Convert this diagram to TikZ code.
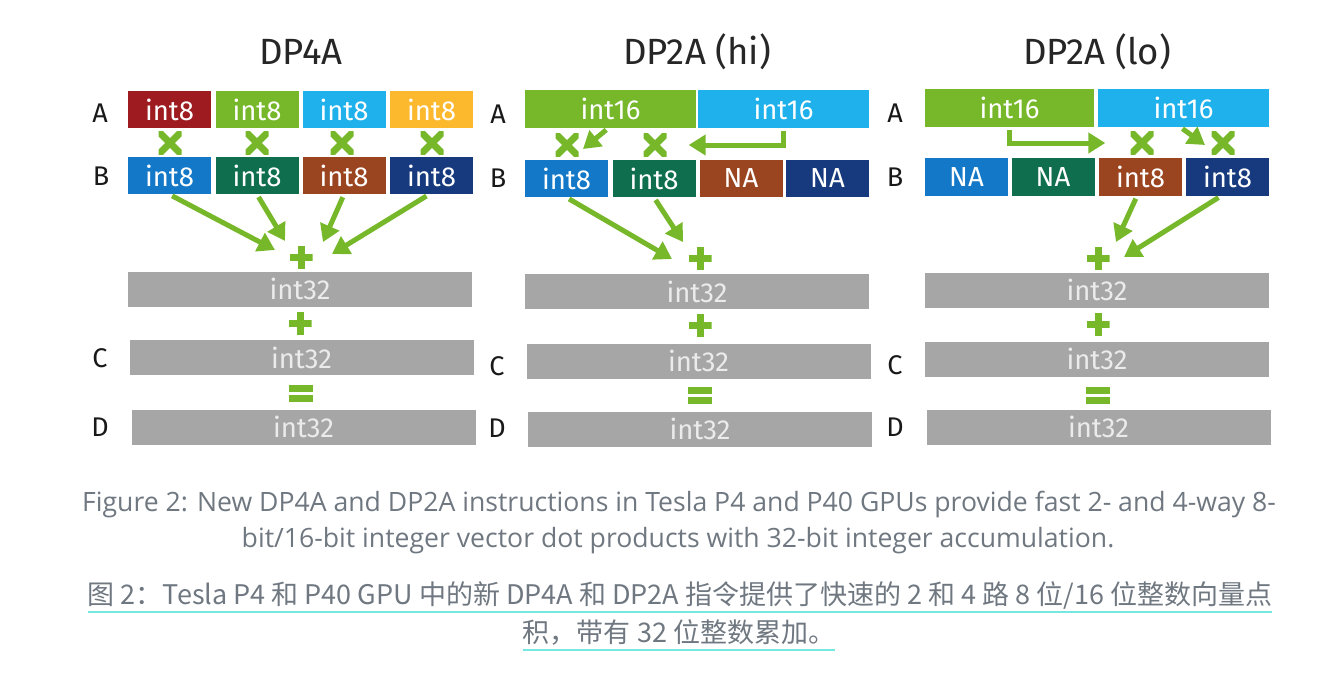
\documentclass[tikz,border=0pt]{standalone}
\usepackage{fontspec}
\setmainfont{Fira Sans}
\newfontfamily\capfont{Open Sans}
\newfontfamily\cjkfont{Noto Sans CJK SC}
\usetikzlibrary{arrows.meta}

\definecolor{nvgreen}{HTML}{76B82A}
\definecolor{cRed}{HTML}{9E1B20}
\definecolor{cSky}{HTML}{1EB1EC}
\definecolor{cAmber}{HTML}{FDB92E}
\definecolor{cBlue}{HTML}{1478C8}
\definecolor{cPine}{HTML}{0F6E4E}
\definecolor{cRust}{HTML}{9A4520}
\definecolor{cNavy}{HTML}{173A7E}
\definecolor{barGray}{HTML}{A6A6A6}
\definecolor{capGray}{HTML}{6F7780}
\definecolor{ulCyan}{HTML}{74E8E1}

\begin{document}
\begin{tikzpicture}[x=1pt,y=-1pt,
    cell/.style={minimum width=83pt,minimum height=37.5pt,inner sep=0pt,
      text=white,font=\fontsize{27.5}{30}\selectfont},
    bar/.style={cell,fill=barGray,text=white!92!black,minimum width=344pt,
      minimum height=35pt},
    title/.style={font=\fontsize{36.5}{40}\selectfont,text=black!85},
    rowlab/.style={font=\fontsize{27}{30}\selectfont,text=black!90},
    flow/.style={nvgreen,line width=5pt,shorten <=3pt,
      -{Triangle[length=17pt,width=20pt]}},
    mult/.style={minimum size=23pt,inner sep=0pt,path picture={
      \draw[nvgreen,line width=7pt]
        (path picture bounding box.south west) -- (path picture bounding box.north east)
        (path picture bounding box.north west) -- (path picture bounding box.south east);}},
    plusmark/.style={minimum size=23pt,inner sep=0pt,path picture={
      \fill[nvgreen] ([xshift=-3.5pt]path picture bounding box.north)
        rectangle ([xshift=3.5pt]path picture bounding box.south);
      \fill[nvgreen] ([yshift=-3.5pt]path picture bounding box.west)
        rectangle ([yshift=3.5pt]path picture bounding box.east);}},
    equalmark/.style={minimum width=24pt,minimum height=17pt,inner sep=0pt,path picture={
      \fill[nvgreen] (path picture bounding box.north west)
        rectangle ([yshift=-7pt]path picture bounding box.north east);
      \fill[nvgreen] ([yshift=7pt]path picture bounding box.south west)
        rectangle (path picture bounding box.south east);}},
    captxt/.style={inner sep=0pt,text=capGray,font=\capfont\fontsize{26.6}{30}\selectfont},
    cjktxt/.style={inner sep=0pt,text=capGray,font=\cjkfont\fontsize{27}{31}\selectfont},
    uline/.style={ulCyan,line width=2.5pt}]
  \useasboundingbox (0,0) rectangle (1336,686);

  % DP4A
  \node[title] (t1) at (301,52) {DP4A};
  \node[rowlab] (la1) at (100,113) {A};
  \node[rowlab] (lb1) at (101,176) {B};
  \node[rowlab] (lc1) at (100,358) {C};
  \node[rowlab] (ld1) at (100,427) {D};
  \node[cell,fill=cRed] (a11) at (169.5,109.5) {int8};
  \node[cell,fill=nvgreen] (a12) at (257,109.5) {int8};
  \node[cell,fill=cSky] (a13) at (344,109.5) {int8};
  \node[cell,fill=cAmber] (a14) at (431.5,109.5) {int8};
  \node[cell,fill=cBlue] (b11) at (169.5,175.5) {int8};
  \node[cell,fill=cPine] (b12) at (257,175.5) {int8};
  \node[cell,fill=cRust] (b13) at (344,175.5) {int8};
  \node[cell,fill=cNavy] (b14) at (431.5,175.5) {int8};
  \foreach \i/\x in {1/170,2/257,3/342,4/432}
    \node[mult] (m1\i) at (\x,143) {};
  \node[plusmark] (s1) at (301,257) {};
  \coordinate (k11) at (275,250);
  \coordinate (k12) at (285,241);
  \coordinate (k13) at (323,242);
  \coordinate (k14) at (332,254);
  \draw[flow] (b11.south) -- (k11);
  \draw[flow] (b12.south) -- (k12);
  \draw[flow] (b13.south) -- (k13);
  \draw[flow] ([xshift=-2.5pt]b14.south) -- (k14);
  \node[bar] (r1) at (300,289) {int32};
  \node[plusmark] (p1) at (300,323) {};
  \node[bar] (c1) at (301.5,357.5) {int32};
  \node[equalmark] (e1) at (301,393) {};
  \node[bar] (d1) at (303.5,427) {int32};

  % DP2A (hi)
  \node[title] (t2) at (697,52) {DP2A (hi)};
  \node[rowlab] (la2) at (498,114) {A};
  \node[rowlab] (lb2) at (498,178) {B};
  \node[rowlab] (lc2) at (497,366) {C};
  \node[rowlab] (ld2) at (497,428) {D};
  \node[cell,fill=nvgreen,minimum width=171pt] (a21) at (610.5,109) {int16};
  \node[cell,fill=cSky,minimum width=171pt] (a22) at (783.5,109) {int16};
  \node[cell,fill=cBlue] (b21) at (566.5,178.5) {int8};
  \node[cell,fill=cPine] (b22) at (654,178.5) {int8};
  \node[cell,fill=cRust] (b23) at (741,178.5) {NA};
  \node[cell,fill=cNavy] (b24) at (827.5,178.5) {NA};
  \node[mult] (m21) at (567,145) {};
  \node[mult] (m22) at (655,145) {};
  \coordinate (h1) at (583,149);
  \draw[flow] ([xshift=-2pt]a21.south) -- (h1);
  \draw[flow,shorten >=22pt] (a22.south) |- (m22);
  \node[plusmark] (s2) at (700,258) {};
  \coordinate (k21) at (672,259);
  \coordinate (k22) at (683,242);
  \draw[flow] (b21.south) -- (k21);
  \draw[flow] (b22.south) -- (k22);
  \node[bar] (r2) at (697,291.5) {int32};
  \node[plusmark] (p2) at (700,325) {};
  \node[bar] (c2) at (698.5,361) {int32};
  \node[equalmark] (e2) at (700,395) {};
  \node[bar] (d2) at (700,429) {int32};

  % DP2A (lo)
  \node[title] (t3) at (1097,52) {DP2A (lo)};
  \node[rowlab] (la3) at (895,113) {A};
  \node[rowlab] (lb3) at (895,177) {B};
  \node[rowlab] (lc3) at (895,365) {C};
  \node[rowlab] (ld3) at (895,427) {D};
  \node[cell,fill=nvgreen,minimum width=169pt] (a31) at (1009.5,108) {int16};
  \node[cell,fill=cSky,minimum width=171pt] (a32) at (1183.5,108) {int16};
  \node[cell,fill=cBlue] (b31) at (966.5,177) {NA};
  \node[cell,fill=cPine] (b32) at (1053,177) {NA};
  \node[cell,fill=cRust] (b33) at (1140.5,177) {int8};
  \node[cell,fill=cNavy] (b34) at (1227.5,177) {int8};
  \node[mult] (m31) at (1142,143) {};
  \node[mult] (m32) at (1223,143) {};
  \coordinate (h2) at (1205,145);
  \draw[flow,shorten >=25pt] (a31.south) |- (m31);
  \draw[flow] ([xshift=-3.5pt]a32.south) -- (h2);
  \node[plusmark] (s3) at (1098,258) {};
  \coordinate (k31) at (1116,242);
  \coordinate (k32) at (1124,257);
  \draw[flow] ([xshift=-3.5pt]b33.south) -- (k31);
  \draw[flow] ([xshift=-6.5pt]b34.south) -- (k32);
  \node[bar] (r3) at (1097,290) {int32};
  \node[plusmark] (p3) at (1098,324) {};
  \node[bar] (c3) at (1097,359) {int32};
  \node[equalmark] (e3) at (1098,395) {};
  \node[bar] (d3) at (1098.5,427) {int32};

  % caption
  \node[captxt] (cap1) at (679,505)
    {Figure 2: New DP4A and DP2A instructions in Tesla P4 and P40 GPUs provide fast 2- and 4-way 8-};
  \node[captxt] (cap2) at (678,541)
    {bit/16-bit integer vector dot products with 32-bit integer accumulation.};
  \node[cjktxt] (zh1) at (680,595)
    {图 2：Tesla P4 和 P40 GPU 中的新 DP4A 和 DP2A 指令提供了快速的 2 和 4 路 8 位/16 位整数向量点};
  \node[cjktxt] (zh2) at (679,632) {积，带有 32 位整数累加。};
  \draw[uline] ([yshift=-8pt]zh1.base west) -- ([yshift=-8pt]zh1.base east);
  \draw[uline] ([yshift=-8pt]zh2.base west) -- ([yshift=-8pt]zh2.base east);
\end{tikzpicture}
\end{document}
